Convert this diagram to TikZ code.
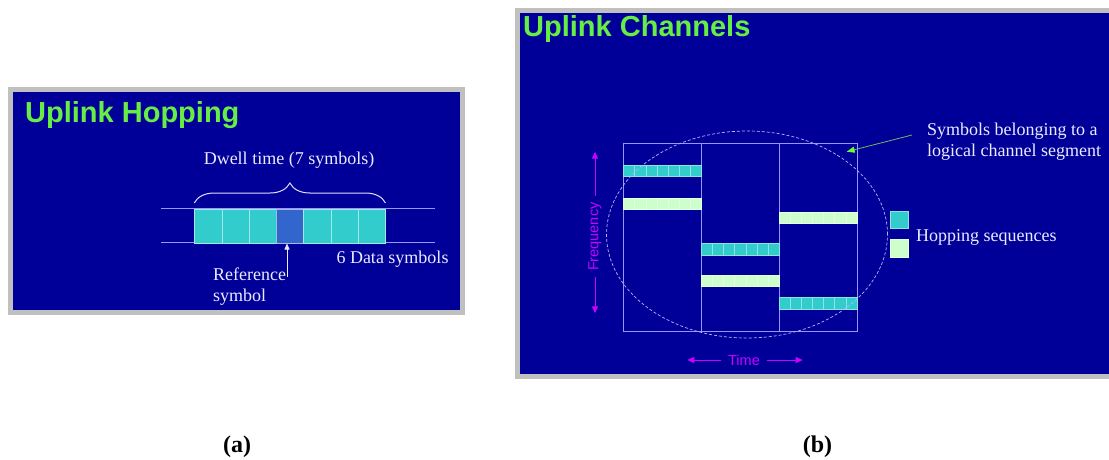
\documentclass[tikz,border=0pt]{standalone}
\usepackage{fontspec}
\setmainfont{Liberation Serif}
\setsansfont{Liberation Sans}
\usepackage{tikz}
\usetikzlibrary{decorations.pathreplacing, arrows.meta, calc, positioning, shapes.geometric}
\definecolor{slide}{RGB}{0,0,153}
\definecolor{frame}{RGB}{192,192,192}
\definecolor{ttl}{RGB}{102,238,68}
\definecolor{cyansym}{RGB}{51,204,204}
\definecolor{refsym}{RGB}{51,102,204}
\definecolor{palesym}{RGB}{204,255,204}
\definecolor{grid}{RGB}{150,150,255}
\definecolor{txt}{RGB}{235,235,255}
\definecolor{axis}{RGB}{204,0,255}
\definecolor{pointer}{RGB}{102,255,51}

\begin{document}
\begin{tikzpicture}[x=1pt, y=-1pt,
    slidettl/.style={anchor=base west, inner sep=0pt, text=ttl, font=\sffamily\bfseries\fontsize{29}{30}\selectfont},
    note/.style={inner sep=0pt, text=txt, font=\fontsize{18}{21}\selectfont},
    symcell/.style={fill=#1, draw=#1!45!white, line width=0.5pt, anchor=north west, inner sep=0pt, minimum width=27.24pt, minimum height=34pt},
    hopcell/.style={fill=#1, draw=#1!55!white, line width=0.4pt, anchor=north west, inner sep=0pt, minimum width=11.11pt, minimum height=11.4pt},
    column/.style={draw=grid, line width=0.8pt, anchor=north west, inner sep=0pt, minimum width=77.8pt, minimum height=188pt},
    legendbox/.style={fill=#1, draw=#1!55!white, line width=0.5pt, anchor=north west, inner sep=0pt, minimum size=17.5pt},
    axislbl/.style={inner sep=6pt, text=axis, font=\sffamily\fontsize{14.5}{15}\selectfont},
    axisarrow/.style={axis, line width=1pt, -{Triangle[length=7pt, width=6pt]}},
    subcap/.style={inner sep=0pt, font=\bfseries\fontsize{24}{24}\selectfont}]
\useasboundingbox (0,0) rectangle (1109,459);
\fill[white] (0,0) rectangle (1109,459);

% (a) uplink hopping
\filldraw[fill=slide, draw=frame, line width=5pt] (10.5,89.5) rectangle (462.5,312.5);
\node[slidettl] (ttlA) at (25,122.3) {Uplink Hopping};
\draw[grid, line width=1pt] (161,208.5) -- (435,208.5) (161,242.5) -- (435,242.5);
\foreach \i/\c in {0/cyansym,1/cyansym,2/cyansym,3/refsym,4/cyansym,5/cyansym,6/cyansym}
    \node[symcell=\c] (c\i) at ({194.3+27.24*\i},209) {};
\draw[txt!85!grid, line width=1pt, decorate, decoration={brace, amplitude=20pt}]
    ($(c0.north west)+(0,-6)$) -- ($(c6.north east)+(0,-6)$);
\node[note] (dwell) at (289,160) {Dwell time (7 symbols)};
\coordinate (reftail) at (287,277);
\draw[txt, line width=0.8pt, -{Triangle[length=6pt, width=5pt]}] (reftail) -- (reftail |- c3.south);
\node[note, align=left, anchor=north west] (reflbl) at (213,267.5) {Reference\\symbol};
\node[note] (datalbl) at (392.5,259) {6 Data symbols};

% (b) uplink channels
\fill[frame] (515,8) rectangle (1109,379.3);
\fill[slide] (520,12.7) rectangle (1109,374);
\node[slidettl] (ttlB) at (523,36) {Uplink Channels};
\foreach \j in {0,1,2}
    \node[column] (col\j) at ({623.3+77.8*\j},142.7) {};
\foreach \bx/\by/\bc [count=\n] in {623.3/165/cyansym, 623.3/197.7/palesym, 701.1/243.3/cyansym,
        701.1/275/palesym, 778.9/211.7/palesym, 778.9/297.3/cyansym}
    \foreach \k in {0,...,6}
        \node[hopcell=\bc] (h\n-\k) at ({\bx+11.11*\k},\by) {};
\node[ellipse, draw=grid!70!white, line width=0.7pt, dash pattern=on 3pt off 2pt, inner sep=0pt,
    minimum width=281pt, minimum height=207pt] (segment) at (747,234.5) {};
\node[note, align=left, anchor=north west] (segnote) at (927,123) {Symbols belonging to a\\logical channel segment};
\coordinate (segtip) at (846.7,151.7);
\draw[pointer!45!gray, line width=0.8pt, -{Triangle[length=8pt, width=6pt, color=pointer]}]
    ($(segnote.north west)+(-15,12)$) -- (segtip);
\node[legendbox=cyansym] (legC) at (890,210.7) {};
\node[legendbox=palesym] (legP) at (890,239.3) {};
\node[note, anchor=base west] (hoplbl) at (916,241) {Hopping sequences};

\node[axislbl, rotate=90] (freq) at (595,236.7) {Frequency};
\coordinate (fup) at (595,151.7);
\coordinate (fdown) at (595,313.3);
\draw[axisarrow] (freq.east) -- (fup);
\draw[axisarrow] (freq.west) -- (fdown);
\node[axislbl, inner xsep=7pt] (time) at (744,360) {Time};
\coordinate (tleft) at (687.3,360);
\coordinate (tright) at (802.7,360);
\draw[axisarrow] (time.west) -- (tleft);
\draw[axisarrow] (time.east) -- (tright);

% captions
\node[subcap] (capA) at (237,446.7) {(a)};
\node[subcap] (capB) at (817.5,446.7) {(b)};
\end{tikzpicture}
\end{document}
